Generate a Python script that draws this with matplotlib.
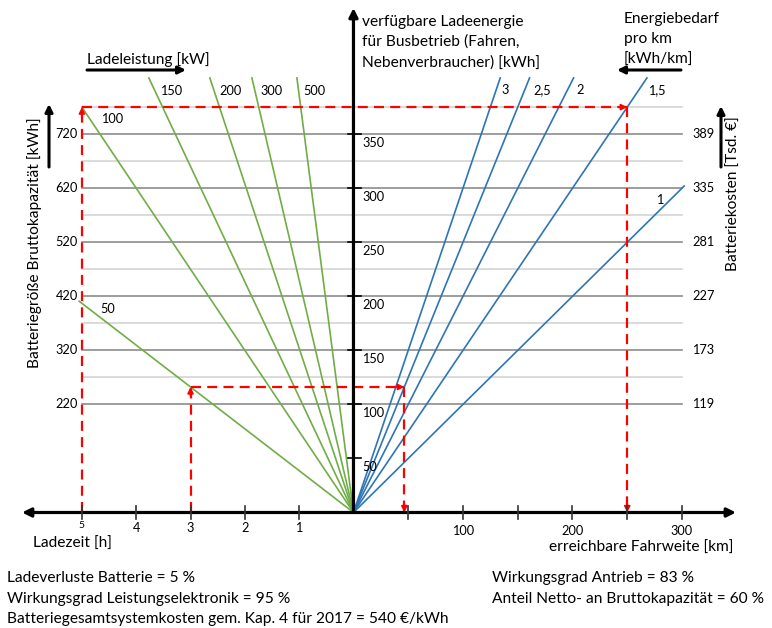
import numpy as np
import matplotlib.pyplot as plt

# --- values ---
energy_ticks = [50, 100, 150, 200, 250, 300, 350]          # kWh, central axis
grid_major = [100, 150, 200, 250, 300, 350]                 # kWh
grid_minor = [125, 175, 225, 275, 325, 375]                 # kWh
gross_labels = ['220', '320', '420', '520', '620', '720']   # Bruttokapazitaet [kWh]
cost_labels = ['119', '173', '227', '281', '335', '389']    # Batteriekosten [Tsd. EUR]
hour_ticks = [1, 2, 3, 4, 5]
km_ticks = [50, 100, 150, 200, 250, 300]
km_labels = [100, 200, 300]

powers = ['50', '100', '150', '200', '300', '500']          # Ladeleistung [kW]
energy_per_hour = [38.7, 75.0, 106.7, 152.0, 215.0, 386.0]  # nutzbare kWh je Stunde Laden
power_tmax = [5.05, 5.0, None, None, None, None]            # Linienende [h]

demand = [3, 2.5, 2, 1.5, 1]                                # kWh/km
demand_txt = ['3', '2,5', '2', '1,5', '1']
demand_kmmax = [None, None, None, None, 302]

E_TOP = 402          # upper end of the lines [kWh]
HOUR_W = 49.6        # width of one hour on the left half, in km units

# example paths (red)
ex1_hours, ex1_power, ex1_demand = 5, 1, 3      # 100 kW, 1,5 kWh/km
ex2_hours, ex2_power, ex2_demand = 3, 0, 1      # 50 kW, 2,5 kWh/km

green = '#70AD47'
blue = '#2E75B6'
red = '#FF0000'
FS = 11.2
FS_S = 9.2

plt.rcParams['font.family'] = ['Lato', 'DejaVu Sans']

W, H = 772, 628
fig = plt.figure(figsize=(W / 100, H / 100), dpi=100)
ax = fig.add_axes([0, 0, 1, 1])
ax.set_xlim(-322.8, 382.2)
ax.set_ylim(-106.85, 474.1)
ax.axis('off')


def hx(h):
    return -h * HOUR_W


def ftext(x, y, s, **kw):
    kw.setdefault('va', 'center')
    kw.setdefault('fontsize', FS)
    fig.text(x / W, 1 - y / H, s, **kw)


def farrow(x0, y0, x1, y1, lw=2.2, ms=12):
    ax.annotate('', xy=(x1 / W, 1 - y1 / H), xytext=(x0 / W, 1 - y0 / H),
                xycoords='figure fraction',
                arrowprops=dict(arrowstyle='-|>', color='k', lw=lw,
                                mutation_scale=ms, shrinkA=0, shrinkB=0))


# grid lines
x_left, x_right = hx(5), 300
for e in grid_minor:
    ax.plot([x_left, x_right], [e, e], color='#d4d4d4', lw=1.2, zorder=1)
for e in grid_major:
    ax.plot([x_left, x_right], [e, e], color='#8c8c8c', lw=1.2, zorder=1)
for e, s in zip(grid_major, gross_labels):
    ax.annotate(s, (x_left, e), xytext=(-4, 0), textcoords='offset pixels',
                ha='right', va='center', fontsize=FS_S)
for e, s in zip(grid_major, cost_labels):
    ax.annotate(s, (x_right, e), xytext=(10, 0), textcoords='offset pixels',
                ha='left', va='center', fontsize=FS_S)

# green charging lines
for p, k, tmax in zip(powers, energy_per_hour, power_tmax):
    if tmax is None:
        tmax = E_TOP / k
    ax.plot([0, hx(tmax)], [0, k * tmax], color=green, lw=1.2, zorder=3)
    if tmax < 5:
        e = 390
        ax.annotate(p, (hx(e / k), e), xytext=(5, 0), textcoords='offset pixels',
                    ha='left', va='center', fontsize=FS_S)
    else:
        e = 364 if p == '100' else 188
        ax.annotate(p, (hx(e / k), e), xytext=(11, 0), textcoords='offset pixels',
                    ha='left', va='center', fontsize=FS_S)

# blue consumption lines
for c, s, kmax in zip(demand, demand_txt, demand_kmmax):
    if kmax is None:
        kmax = E_TOP / c
    ax.plot([0, kmax], [0, c * kmax], color=blue, lw=1.2, zorder=3)
    if s == '1':
        ax.annotate(s, (289, 289), xytext=(-10, 0), textcoords='offset pixels',
                    ha='center', va='center', fontsize=FS_S)
    else:
        e = 391
        ax.annotate(s, (e / c, e), xytext=(5 if s == '3' else 9, 0),
                    textcoords='offset pixels', ha='left', va='center', fontsize=FS_S)


# red example paths
def red_path(hours, pi, di):
    e = energy_per_hour[pi] * hours
    km = e / demand[di]
    dash = dict(color=red, lw=1.6, ls=(0, (4.5, 2.8)), zorder=5)
    ax.plot([hx(hours), hx(hours)], [0, e], **dash)
    ax.plot([hx(hours), km], [e, e], **dash)
    ax.plot([km, km], [e, 0], **dash)
    head = dict(arrowstyle='-|>', color=red, lw=1.2, mutation_scale=9,
                shrinkA=0, shrinkB=0)
    ax.annotate('', xy=(hx(hours), e), xytext=(hx(hours), e - 8), arrowprops=head, zorder=6)
    ax.annotate('', xy=(km, e), xytext=(km - 8, e), arrowprops=head, zorder=6)
    ax.annotate('', xy=(km, 0), xytext=(km, 8), arrowprops=head, zorder=6)


red_path(ex1_hours, ex1_power, ex1_demand)
red_path(ex2_hours, ex2_power, ex2_demand)

# main axes
arr = dict(arrowstyle='-|>', color='k', lw=2.3, mutation_scale=13, shrinkA=0, shrinkB=0)
ax.annotate('', xy=(0, 466.7), xytext=(0, 0), arrowprops=arr, zorder=7)
ax.annotate('', xy=(-302.7, 0), xytext=(0, 0), arrowprops=arr, zorder=7)
ax.annotate('', xy=(349.3, 0), xytext=(0, 0), arrowprops=arr, zorder=7)

for e in energy_ticks:
    ax.plot([-5, 7], [e, e], color='k', lw=1.2, zorder=7)
    ax.annotate(str(e), (7, e), xytext=(1, -9), textcoords='offset pixels',
                ha='left', va='center', fontsize=FS_S)
for h in hour_ticks:
    ax.plot([hx(h), hx(h)], [-6, 6], color='#333333', lw=1.2, zorder=7)
    ax.annotate(str(h), (hx(h), 0), xytext=(0, -16 if h < 5 else -13),
                textcoords='offset pixels', ha='center', va='center',
                fontsize=FS_S if h < 5 else 7.5)
for k in km_ticks:
    ax.plot([k, k], [-6, 6], color='#333333', lw=1.2, zorder=7)
for k in km_labels:
    ax.annotate(str(k), (k, 0), xytext=(0, -19), textcoords='offset pixels',
                ha='center', va='center', fontsize=FS_S)

# axis titles
ftext(362, 22, 'verfügbare Ladeenergie', ha='left')
ftext(362, 42, 'für Busbetrieb (Fahren,', ha='left')
ftext(362, 63, 'Nebenverbraucher) [kWh]', ha='left')

ftext(624, 19, 'Energiebedarf', ha='left')
ftext(624, 39, 'pro km', ha='left')
ftext(624, 60, '[kWh/km]', ha='left')
farrow(681, 70, 617, 70, lw=2.2, ms=11)

ftext(87, 60, 'Ladeleistung [kW]', ha='left')
farrow(87, 70, 186, 70, lw=2.2, ms=11)

ftext(35, 243, 'Batteriegröße Bruttokapazität [kWh]', ha='center', rotation=90)
farrow(49, 167, 49, 104, lw=2.2, ms=11)

ftext(734, 194, 'Batteriekosten [Tsd. €]', ha='center', rotation=90)
farrow(721, 167, 721, 106, lw=2.2, ms=11)

ftext(33, 544, 'Ladezeit [h]', ha='left')
ftext(549, 548, 'erreichbare Fahrweite [km]', ha='left')

# notes
ftext(7, 578, 'Ladeverluste Batterie = 5 %', ha='left')
ftext(7, 599, 'Wirkungsgrad Leistungselektronik = 95 %', ha='left')
ftext(7, 619, 'Batteriegesamtsystemkosten gem. Kap. 4 für 2017 = 540 €/kWh', ha='left')
ftext(492, 578, 'Wirkungsgrad Antrieb = 83 %', ha='left')
ftext(492, 599, 'Anteil Netto- an Bruttokapazität = 60 %', ha='left')

fig.savefig('out.png', dpi=100)
